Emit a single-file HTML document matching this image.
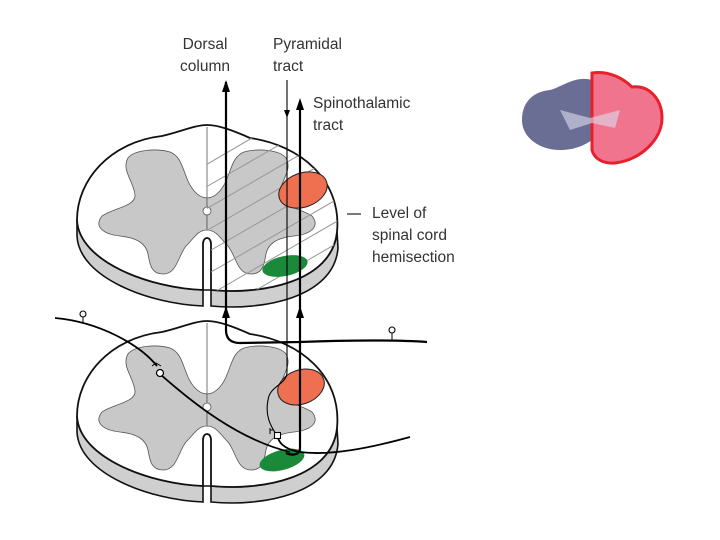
<!DOCTYPE html>
<html><head><style>
html,body{margin:0;padding:0;background:#fff;}
svg{display:block;}
text{font-family:"Liberation Sans",sans-serif;font-size:15.5px;fill:#333;}
</style></head><body>
<svg width="720" height="540" viewBox="0 0 720 540" xmlns="http://www.w3.org/2000/svg">
<defs>
<path id="face" d="M203,290 L203,244 C203,236 211,236 211,244 L211,290 C262,295 332,282 337,232 C342,180 300,145 250,138 C232,130 218,125 207,125 C195,125 180,132 162,136 C110,142 77,180 77,220 C79,262 150,288 203,290 Z"/>
<path id="side" d="M77,220 L77,236 C79,278 150,304 203,306 L203,290 L211,290 L211,306 C262,311 334,298 338,248 L337,232 C332,282 262,295 211,290 L203,290 C150,288 79,262 77,220 Z"/>
<path id="gl" d="M207,198 C198,198 190,188 186,176 C182,166 180,156 170,152 C156,148 134,150 128,158 C121,170 134,182 135,195 C136,206 114,208 102,216 C94,226 102,234 120,236 C138,238 146,244 148,254 C150,266 152,274 163,274 C177,274 178,256 186,246 C194,238 198,230 207,230 Z"/>
<g id="cord">
<use href="#side" fill="#cfcfcf" stroke="#111" stroke-width="1.6"/>
<use href="#face" fill="#fff" stroke="#111" stroke-width="1.8"/>
<use href="#gl" fill="#c8c8c8" stroke="#555" stroke-width="0.8"/>
<use href="#gl" fill="#c8c8c8" stroke="#555" stroke-width="0.8" transform="translate(414,0) scale(-1,1)"/>
<line x1="207" y1="127" x2="207" y2="198" stroke="#555" stroke-width="0.8"/>
<circle cx="207" cy="211" r="4" fill="#fff" stroke="#555" stroke-width="0.8"/>
</g>
<clipPath id="hc"><path d="M207,125 C218,125 232,130 250,138 C300,145 342,180 337,232 C332,282 262,295 211,290 L211,244 L207,238 Z"/></clipPath>
</defs>
<!-- top cord -->
<use href="#cord"/>
<g clip-path="url(#hc)" stroke="#999" stroke-width="1">
<line x1="180" y1="180" x2="300" y2="110"/>
<line x1="180" y1="202" x2="340" y2="110"/>
<line x1="180" y1="224" x2="360" y2="120"/>
<line x1="180" y1="246" x2="360" y2="142"/>
<line x1="180" y1="268" x2="360" y2="164"/>
<line x1="180" y1="290" x2="360" y2="186"/>
<line x1="180" y1="312" x2="360" y2="208"/>
<line x1="180" y1="334" x2="360" y2="230"/>
<line x1="200" y1="345" x2="360" y2="252"/>
</g>
<ellipse cx="303" cy="190" rx="25" ry="17" transform="rotate(-20 303 190)" fill="#ee7050" stroke="#222" stroke-width="1"/>
<ellipse cx="285" cy="266" rx="23" ry="10" transform="rotate(-12 285 266)" fill="#1a8a3a"/>
<!-- bottom cord -->
<g transform="translate(0,196)"><use href="#cord"/></g>
<ellipse cx="301" cy="387" rx="24" ry="17" transform="rotate(-20 301 387)" fill="#ee7050" stroke="#222" stroke-width="1"/>
<ellipse cx="282" cy="460" rx="23" ry="10" transform="rotate(-15 282 460)" fill="#1a8a3a"/>
<!-- tracts -->
<path d="M226,82 L226,330 Q226,343 240,343 L300,342 C350,340 400,340 427,342" fill="none" stroke="#000" stroke-width="2.2"/>
<path d="M222,92 L226,80 L230,92 Z M222,318 L226,306 L230,318 Z"/>
<path d="M287,80 L287,372 C287,385 270,385 268,400 C265,415 270,425 276,434" fill="none" stroke="#000" stroke-width="1.1"/>
<path d="M284,110 L287,118 L290,110 Z"/>
<path d="M300,102 L300,448 C300,455 292,456 286,453" fill="none" stroke="#000" stroke-width="2.2"/>
<path d="M296,110 L300,98 L304,110 Z M296,318 L300,306 L304,318 Z"/>
<!-- sensory fibres -->
<path d="M55,318 C100,322 140,345 157,366" fill="none" stroke="#000" stroke-width="1.8"/>
<path d="M152,366 L156,363 L161,366" fill="none" stroke="#000" stroke-width="1"/>
<path d="M160,374 C195,405 240,440 290,452" fill="none" stroke="#000" stroke-width="1.8"/>
<circle cx="160" cy="373" r="3.5" fill="#fff" stroke="#000" stroke-width="1.2"/>
<path d="M410,437 C370,448 330,456 300,452 C288,450 280,445 278,438" fill="none" stroke="#000" stroke-width="1.8"/>
<rect x="274.5" y="432.5" width="6" height="6" fill="#fff" stroke="#000" stroke-width="1.1"/>
<path d="M270,428 L270,434 M270,430 L274,430" stroke="#000" stroke-width="1"/>
<line x1="83" y1="317" x2="83" y2="322" stroke="#000"/><circle cx="83" cy="314" r="3" fill="#fff" stroke="#000" stroke-width="1.1"/>
<line x1="392" y1="333" x2="392" y2="341" stroke="#000"/><circle cx="392" cy="330" r="3" fill="#fff" stroke="#000" stroke-width="1.1"/>
<!-- labels -->
<text x="205" y="49" text-anchor="middle">Dorsal</text>
<text x="205" y="71" text-anchor="middle">column</text>
<text x="273" y="49">Pyramidal</text>
<text x="273" y="71">tract</text>
<text x="313" y="108">Spinothalamic</text>
<text x="313" y="130">tract</text>
<line x1="347" y1="214" x2="361" y2="214" stroke="#222" stroke-width="1.2"/>
<text x="372" y="218">Level of</text>
<text x="372" y="240">spinal cord</text>
<text x="372" y="262">hemisection</text>
<!-- section image -->
<path d="M592,80 C575,75 560,88 550,90 C530,92 522,105 522,120 C522,138 540,150 560,150 C575,150 585,145 592,140 Z" fill="#6a6e94"/>
<path d="M592,73 C610,70 625,80 632,87 C650,85 662,100 662,118 C662,140 640,160 615,163 C602,164 594,158 592,150 Z" fill="#f0748e" stroke="#e8202c" stroke-width="3"/>
<path d="M560,110 L590,118 L620,110 L615,128 L592,123 L570,130 Z" fill="#dde" opacity="0.6"/>
</svg>
</body></html>
